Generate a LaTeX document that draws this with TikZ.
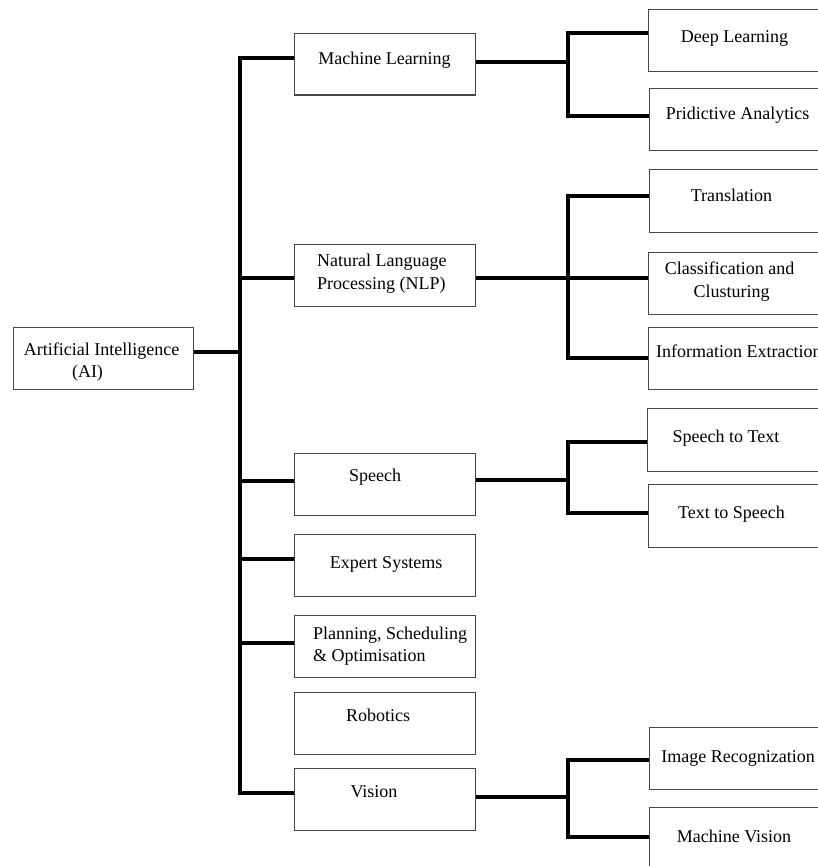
\documentclass[tikz,border=0pt]{standalone}
\usepackage{fontspec}
\setmainfont{Liberation Serif}
\newfontfamily\timesfont{Liberation Serif}
\begin{document}
\begin{tikzpicture}[x=1pt,y=-1pt,
  box/.style={draw=black!72,line width=1.3pt,fill=white,inner sep=0pt,anchor=north west},
  midbox/.style={box,minimum width=181pt,minimum height=61.5pt},
  rbox/.style={box,minimum width=172pt,minimum height=62pt},
  conn/.style={line width=3.4pt,line join=miter,line cap=butt},
  lbl/.style={inner sep=0pt,anchor=base,font=\timesfont\fontsize{18}{22}\selectfont},
  lblw/.style={lbl,anchor=base west}]
\useasboundingbox[fill=white] (0,0) rectangle (817,866);

% boxes
\node[box,minimum width=180pt,minimum height=61.5pt] (ai) at (13,327) {};
\node[midbox] (ml) at (294,33) {};
\node[midbox] (nlp) at (294,244) {};
\node[midbox] (sp) at (294,453) {};
\node[midbox] (es) at (294,534) {};
\node[midbox] (pl) at (294,615) {};
\node[midbox] (rb) at (294,692) {};
\node[midbox] (vi) at (294,768) {};
\node[rbox] (dl) at (648,9) {};
\node[rbox] (pa) at (649,88) {};
\node[rbox,minimum height=63pt] (tr) at (649,169) {};
\node[rbox] (cc) at (648,252) {};
\node[rbox] (ie) at (648,327) {};
\node[rbox,minimum height=63pt] (st) at (647,408) {};
\node[rbox,minimum height=63pt] (ts) at (648,484) {};
\node[rbox] (ir) at (649,727) {};
\node[rbox,minimum height=70pt] (mv) at (649,807) {};

% labels
\node[lbl] (ai-t1) at (101.5,355) {Artificial Intelligence};
\node[lbl] (ai-t2) at (87.5,377) {(AI)};
\node[lbl] (ml-t) at (384.5,65) {Machine Learning};
\node[lblw] (nlp-t1) at (317,267) {Natural Language};
\node[lblw] (nlp-t2) at (317,290) {Processing (NLP)};
\node[lbl] (sp-t) at (375,481) {Speech};
\node[lbl] (es-t) at (386,568) {Expert Systems};
\node[lblw] (pl-t1) at (313,639) {Planning, Scheduling};
\node[lblw] (pl-t2) at (313,661) {\& Optimisation};
\node[lbl] (rb-t) at (378,721) {Robotics};
\node[lbl] (vi-t) at (374,797) {Vision};
\node[lbl] (dl-t) at (734.5,43) {Deep Learning};
\node[lbl] (pa-t) at (737.5,120) {Pridictive Analytics};
\node[lbl] (tr-t) at (731.5,202) {Translation};
\node[lbl] (cc-t1) at (729.5,275) {Classification and};
\node[lbl] (cc-t2) at (731.5,297) {Clusturing};
\node[lblw] (ie-t) at (656,357) {Information Extraction};
\node[lbl] (st-t) at (726,442) {Speech to Text};
\node[lbl] (ts-t) at (731.5,518) {Text to Speech};
\node[lbl] (ir-t) at (738,762) {Image Recognization};
\node[lbl] (mv-t) at (734,842) {Machine Vision};

% junction coordinates
\coordinate (j-ai) at (240,352);
\coordinate (j-ml) at (240,58);
\coordinate (j-nlp) at (240,278);
\coordinate (j-sp) at (240,481);
\coordinate (j-es) at (240,559);
\coordinate (j-pl) at (240,643);
\coordinate (j-vi) at (240,793);
\coordinate (k-ml) at (568,62);
\coordinate (k-dl) at (568,33);
\coordinate (k-pa) at (568,116);
\coordinate (k-nlp) at (568,278);
\coordinate (k-tr) at (568,196);
\coordinate (k-cc) at (568,278);
\coordinate (k-ie) at (568,358);
\coordinate (k-sp) at (568,480);
\coordinate (k-st) at (568,442);
\coordinate (k-ts) at (568,513);
\coordinate (k-vi) at (568,797);
\coordinate (k-ir) at (568,760);
\coordinate (k-mv) at (568,837);

% level 1
\draw[conn] (ai.east |- j-ai) -- (j-ai);
\draw[conn] (ml.west |- j-ml) -- (j-ml) -- (j-vi) -- (vi.west |- j-vi);
\draw[conn] (j-nlp) -- (nlp.west |- j-nlp);
\draw[conn] (j-sp) -- (sp.west |- j-sp);
\draw[conn] (j-es) -- (es.west |- j-es);
\draw[conn] (j-pl) -- (pl.west |- j-pl);

% level 2
\draw[conn] (ml.east |- k-ml) -- (k-ml);
\draw[conn] (dl.west |- k-dl) -- (k-dl) -- (k-pa) -- (pa.west |- k-pa);
\draw[conn] (nlp.east |- k-nlp) -- (k-nlp);
\draw[conn] (tr.west |- k-tr) -- (k-tr) -- (k-ie) -- (ie.west |- k-ie);
\draw[conn] (k-cc) -- (cc.west |- k-cc);
\draw[conn] (sp.east |- k-sp) -- (k-sp);
\draw[conn] (st.west |- k-st) -- (k-st) -- (k-ts) -- (ts.west |- k-ts);
\draw[conn] (vi.east |- k-vi) -- (k-vi);
\draw[conn] (ir.west |- k-ir) -- (k-ir) -- (k-mv) -- (mv.west |- k-mv);
\end{tikzpicture}
\end{document}
